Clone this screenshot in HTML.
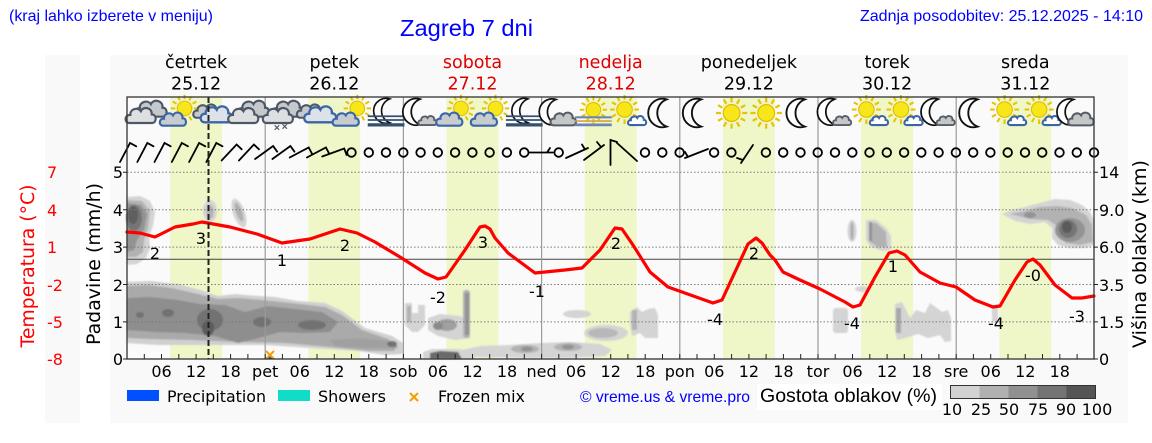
<!DOCTYPE html>
<html><head><meta charset="utf-8"><style>
html,body{margin:0;padding:0;background:#fff;}
svg{display:block;}
.dj{font-family:"DejaVu Sans","Liberation Sans",sans-serif;}
.ls{font-family:"Liberation Sans",Arial,sans-serif;}
</style></head><body>
<svg width="1152" height="443" viewBox="0 0 1152 443" xmlns="http://www.w3.org/2000/svg">
<defs>
<path id="cp" d="M-12,7 C-17.5,7 -17.5,-2 -11,-1.5 C-11.5,-8 -3,-10 0,-5.5 C2.5,-11 12,-9.5 11.5,-2 C17,-2 17,7 11.5,7 Z"/>
<g id="sun">
<g stroke="#e6c400" stroke-width="2">
<line x1="9.5" y1="0" x2="14" y2="0"/><line x1="8.2" y1="4.75" x2="12.1" y2="7"/><line x1="4.75" y1="8.2" x2="7" y2="12.1"/>
<line x1="0" y1="9.5" x2="0" y2="14"/><line x1="-4.75" y1="8.2" x2="-7" y2="12.1"/><line x1="-8.2" y1="4.75" x2="-12.1" y2="7"/>
<line x1="-9.5" y1="0" x2="-14" y2="0"/><line x1="-8.2" y1="-4.75" x2="-12.1" y2="-7"/><line x1="-4.75" y1="-8.2" x2="-7" y2="-12.1"/>
<line x1="0" y1="-9.5" x2="0" y2="-14"/><line x1="4.75" y1="-8.2" x2="7" y2="-12.1"/><line x1="8.2" y1="-4.75" x2="12.1" y2="-7"/>
</g>
<circle r="7.5" fill="#f6e61a" stroke="#e0b800" stroke-width="1"/>
</g>
<path id="moon" d="M4,-13 A13.6,13.6 0 1 0 4,13 A13.9,13.9 0 0 1 4,-13 Z" fill="#fff" stroke="#111" stroke-width="1.8"/>
<g id="oc">
<use href="#cp" transform="translate(5,-3) scale(0.9)" fill="#c6c9cc" stroke="#4d5866" stroke-width="2.2"/>
<use href="#cp" transform="translate(-4,3) scale(0.85)" fill="#dedfe0" stroke="#4d5866" stroke-width="2.3"/>
</g>
<g id="ocb">
<use href="#cp" transform="translate(-6,-1) scale(0.75)" fill="#c6c9cc" stroke="#4d5866" stroke-width="2.5"/>
<use href="#cp" transform="translate(3,2) scale(0.9)" fill="#dde2e8" stroke="#3866a8" stroke-width="2.3"/>
</g>
<g id="sc">
<use href="#sun" transform="translate(5,-4) scale(0.85)"/>
<use href="#cp" transform="translate(-5,6) scale(0.72)" fill="#c9cccf" stroke="#3866a8" stroke-width="2.6"/>
</g>
<g id="ss">
<use href="#sun" transform="translate(-3,-3) scale(0.9)"/>
<use href="#cp" transform="translate(8,7) scale(0.5)" fill="#ffffff" stroke="#3866a8" stroke-width="3.6"/>
</g>
<g id="mc">
<use href="#moon" transform="translate(-4,-1) scale(0.85)"/>
<use href="#cp" transform="translate(6,7) scale(0.5)" fill="#c4c6c8" stroke="#555d66" stroke-width="3.2"/>
</g>
<g id="mcb">
<use href="#moon" transform="translate(-6,-1) scale(0.85)"/>
<use href="#cp" transform="translate(4,6) scale(0.72)" fill="#c4c6c8" stroke="#555d66" stroke-width="2.6"/>
</g>
<g id="mf">
<use href="#moon" transform="translate(0,-2) scale(0.85)"/>
<g stroke="#35506f" stroke-width="1.6"><line x1="-17" y1="3" x2="17" y2="3"/><line x1="-17" y1="6.5" x2="17" y2="6.5"/></g>
<line x1="-17" y1="11" x2="17" y2="11" stroke="#35506f" stroke-width="3"/>
</g>
<g id="sf">
<use href="#sun" transform="translate(0,-3) scale(0.9)"/>
<line x1="-17" y1="4" x2="17" y2="4" stroke="#6a86b8" stroke-width="2"/>
<line x1="-17" y1="7.5" x2="17" y2="7.5" stroke="#d9a040" stroke-width="1.5"/>
<line x1="-17" y1="11" x2="17" y2="11" stroke="#6a86b8" stroke-width="2.5"/>
</g>
<g id="sn">
<use href="#oc"/>
<g stroke="#556" stroke-width="1"><line x1="-7" y1="11" x2="-3" y2="15"/><line x1="-3" y1="11" x2="-7" y2="15"/><line x1="0" y1="10" x2="4" y2="14"/><line x1="4" y1="10" x2="0" y2="14"/></g>
</g>
<filter id="bl" x="-5%" y="-5%" width="110%" height="110%"><feGaussianBlur stdDeviation="0.8"/></filter>
</defs>

<rect x="45" y="55" width="35" height="368" fill="#f9f9f9"/>
<rect x="110" y="55" width="1018" height="368" fill="#f9f9f9"/>

<text class="ls" x="9" y="21" font-size="16" fill="#0000ff" textLength="204" lengthAdjust="spacingAndGlyphs">(kraj lahko izberete v meniju)</text>
<text class="ls" x="400" y="36" font-size="23" fill="#0000ff" textLength="133" lengthAdjust="spacingAndGlyphs">Zagreb 7 dni</text>
<text class="ls" x="860" y="21" font-size="16" fill="#0000ff" textLength="283" lengthAdjust="spacingAndGlyphs">Zadnja posodobitev: 25.12.2025 - 14:10</text>

<g class="dj" font-size="17.5" text-anchor="middle">
<text x="196.1" y="68" fill="#000">četrtek</text><text x="196.1" y="89.5" fill="#000">25.12</text>
<text x="334.3" y="68" fill="#000">petek</text><text x="334.3" y="89.5" fill="#000">26.12</text>
<text x="472.5" y="68" fill="#e00000">sobota</text><text x="472.5" y="89.5" fill="#e00000">27.12</text>
<text x="610.7" y="68" fill="#e00000">nedelja</text><text x="610.7" y="89.5" fill="#e00000">28.12</text>
<text x="748.9" y="68" fill="#000">ponedeljek</text><text x="748.9" y="89.5" fill="#000">29.12</text>
<text x="887.1" y="68" fill="#000">torek</text><text x="887.1" y="89.5" fill="#000">30.12</text>
<text x="1025.3" y="68" fill="#000">sreda</text><text x="1025.3" y="89.5" fill="#000">31.12</text>
</g>

<rect x="127" y="97" width="967" height="262" fill="#fafafa"/>
<g fill="#eff6c8">
<rect x="170.2" y="97" width="51.8" height="262"/>
<rect x="308.4" y="97" width="51.8" height="262"/>
<rect x="446.6" y="97" width="51.8" height="262"/>
<rect x="584.8" y="97" width="51.8" height="262"/>
<rect x="723" y="97" width="51.8" height="262"/>
<rect x="861.2" y="97" width="51.8" height="262"/>
<rect x="999.4" y="97" width="51.8" height="262"/>
</g>

<g filter="url(#bl)">
<path fill="#d0d0d0" d="M127,282 L150,281 L178,284 L200,290 L218,296 L235,294 L258,296 L275,297 L298,301 L325,303 L342,311 L365,328 L392,336 L403,343 L403,354 L385,355 L358,351 L312,348 L265,345 L225,345 L158,345 L127,343 Z"/>
<path fill="#aaaaaa" d="M127,286 L148,285 L172,288 L198,294 L218,299 L238,298 L262,300 L300,304 L325,307 L342,315 L362,330 L388,339 L397,346 L394,351 L370,351 L330,347 L285,343 L240,342 L190,340 L150,339 L127,338 Z"/>
<path fill="#8e8e8e" d="M127,298 L150,297 L178,300 L200,304 L225,305 L245,312 L268,306 L295,309 L322,312 L338,322 L330,332 L305,333 L280,332 L255,339 L238,343 L215,336 L185,333 L155,332 L127,330 Z"/>
<path fill="#a0a0a0" d="M330,340 L360,338 L395,342 L398,348 L365,348 L335,346 Z"/>
<g fill="#727272">
<ellipse cx="210" cy="320" rx="13" ry="11"/><ellipse cx="262" cy="322" rx="9" ry="5"/><ellipse cx="312" cy="325" rx="14" ry="5"/>
<ellipse cx="168" cy="313" rx="6" ry="4"/><ellipse cx="392" cy="344" rx="5" ry="3"/><ellipse cx="140" cy="315" rx="4" ry="3"/>
</g>
<ellipse cx="208" cy="328" rx="6" ry="8" fill="#5c5c5c"/>
<path fill="#d4d4d4" d="M127,197 L140,196 L150,201 L155,212 L153,226 L149,236 L150,248 L146,258 L137,264 L127,265 Z"/>
<path fill="#b2b2b2" d="M127,200 L142,201 L150,211 L148,228 L144,240 L143,252 L136,257 L127,257 Z"/>
<path fill="#939393" d="M127,203 L141,205 L147,214 L144,230 L137,240 L134,250 L127,252 Z"/>
<ellipse cx="134" cy="218" rx="8" ry="13" fill="#747474"/>
<ellipse cx="133" cy="215" rx="5" ry="9" fill="#5e5e5e"/>
<ellipse cx="210" cy="211" rx="7" ry="11" fill="#d4d4d4"/>
<ellipse cx="210" cy="212" rx="3.5" ry="7" fill="#b2b2b2"/>
<ellipse cx="239" cy="213" rx="6" ry="15" fill="#d4d4d4" transform="rotate(-20 239 213)"/>
<ellipse cx="239" cy="212" rx="3" ry="10" fill="#b0b0b0" transform="rotate(-20 239 212)"/>
<path fill="#d4d4d4" d="M405,303 L412,303 L412,313 L418,313 L418,305 L425,305 L425,325 L418,332 L412,332 L405,325 Z"/>
<rect x="407" y="306" width="4" height="16" fill="#b2b2b2"/>
<path fill="#d4d4d4" d="M428,318 L440,314 L460,316 L470,322 L470,338 L455,340 L438,336 L428,330 Z"/>
<ellipse cx="447" cy="325" rx="10" ry="6" fill="#a0a0a0"/>
<ellipse cx="438" cy="326" rx="5" ry="4" fill="#8a8a8a"/>
<rect x="463" y="290" width="7" height="48" rx="3" fill="#b2b2b2"/>
<rect x="465" y="293" width="4" height="42" fill="#939393"/>
<path fill="#d4d4d4" d="M423,352 L432,349 L460,349 L475,352 L475,359 L423,359 Z"/>
<path fill="#6a6a6a" d="M430,353 L440,351 L458,352 L462,359 L430,359 Z"/>
<path fill="#d4d4d4" d="M462,350 L480,346 L510,345 L540,343 L570,342 L600,344 L612,350 L605,356 L570,358 L520,358 L480,357 L462,355 Z"/>
<ellipse cx="525" cy="349" rx="14" ry="4" fill="#b2b2b2"/><ellipse cx="568" cy="347" rx="14" ry="4" fill="#b2b2b2"/>
<ellipse cx="527" cy="349" rx="6" ry="2.5" fill="#939393"/><ellipse cx="568" cy="347" rx="6" ry="2.5" fill="#939393"/>
<ellipse cx="577" cy="314" rx="14" ry="4" fill="#d4d4d4"/>
<ellipse cx="606" cy="333" rx="22" ry="8" fill="#d4d4d4"/>
<ellipse cx="603" cy="333" rx="15" ry="5" fill="#b8b8b8"/>
<path fill="#d4d4d4" d="M630,312 L637,307 L642,312 L648,309 L655,308 L658,315 L658,338 L645,338 L640,333 L632,336 L630,325 Z"/>
<rect x="632" y="310" width="5" height="20" fill="#b2b2b2"/>
<ellipse cx="852" cy="231" rx="4.5" ry="11" fill="#d4d4d4"/>
<ellipse cx="852" cy="231" rx="1.5" ry="9" fill="#aaaaaa"/>
<path fill="#d4d4d4" d="M866,220 L876,220 L886,228 L891,236 L891,250 L882,251 L870,246 L866,240 Z"/>
<path fill="#b2b2b2" d="M869,223 L876,223 L886,232 L887,247 L878,247 L870,242 Z"/>
<rect x="869" y="222" width="3" height="19" fill="#939393"/>
<ellipse cx="862" cy="289" rx="7" ry="2.8" fill="#d4d4d4"/>
<rect x="833" y="308" width="15" height="25" rx="3" fill="#d4d4d4"/>
<path fill="#d4d4d4" d="M895,304 L902,302 L905,308 L910,318 L916,310 L925,313 L930,303 L937,308 L942,312 L948,310 L951,318 L951,341 L945,342 L940,335 L928,338 L918,334 L905,338 L897,340 L895,330 Z"/>
<rect x="896" y="308" width="5" height="25" fill="#a8a8a8"/>
<rect x="992" y="305" width="6" height="17" fill="#d4d4d4"/>
<path fill="#d4d4d4" d="M1002,214 L1012,210 L1025,207 L1040,203 L1055,199 L1070,200 L1082,205 L1090,212 L1094,220 L1094,245 L1085,248 L1070,248 L1058,245 L1052,238 L1052,228 L1045,222 L1030,224 L1015,221 Z"/>
<path fill="#b2b2b2" d="M1010,214 L1025,211 L1040,207 L1058,206 L1072,208 L1086,215 L1092,225 L1093,242 L1080,245 L1066,243 L1057,236 L1057,226 L1048,220 L1030,219 Z"/>
<ellipse cx="1070" cy="230" rx="15" ry="12" fill="#939393"/>
<ellipse cx="1030" cy="215" rx="6" ry="3" fill="#939393"/>
<ellipse cx="1068" cy="229" rx="9" ry="9" fill="#747474"/>
<ellipse cx="1067" cy="227" rx="5" ry="6" fill="#5a5a5a"/>
</g>

<g stroke="#7a7a7a" stroke-width="1" stroke-dasharray="1.5,2">
<line x1="127" y1="172.3" x2="1094" y2="172.3"/>
<line x1="127" y1="209.7" x2="1094" y2="209.7"/>
<line x1="127" y1="247.1" x2="1094" y2="247.1"/>
<line x1="127" y1="284.5" x2="1094" y2="284.5"/>
<line x1="127" y1="321.9" x2="1094" y2="321.9"/>
</g>
<line x1="127" y1="259.3" x2="1094" y2="259.3" stroke="#444" stroke-width="1"/>
<g stroke="#9a9a9a" stroke-width="1.2">
<line x1="265.2" y1="97" x2="265.2" y2="359"/>
<line x1="403.4" y1="97" x2="403.4" y2="359"/>
<line x1="541.6" y1="97" x2="541.6" y2="359"/>
<line x1="679.8" y1="97" x2="679.8" y2="359"/>
<line x1="818" y1="97" x2="818" y2="359"/>
<line x1="956.2" y1="97" x2="956.2" y2="359"/>
</g>

<polyline fill="none" stroke="#ff0000" stroke-width="3.2" stroke-linejoin="round" stroke-linecap="round" points="127,232 140,233 155,237 175,227 193,224 202,222 230,227 257,234 282,243 310,239 340,229 357,233 375,242 400,257 425,273 438,279 446,277 451,270 465,250 480,227 485,226 490,229 495,238 508,253 535,273 565,270 582,268 600,250 615,228 622,229 633,245 650,272 668,287 713,303 722,300 735,272 748,244 756,238 762,243 770,255 775,260 783,272 800,280 820,289 845,302 853,307 860,305 875,277 889,253 897,251 905,255 920,272 940,283 956,287 975,300 993,307 1000,306 1015,280 1027,262 1033,259 1040,265 1055,285 1072,298 1082,298 1094,296"/>

<g class="dj" font-size="16" text-anchor="middle" fill="#000">
<text x="155" y="259">2</text><text x="201" y="244">3</text><text x="282" y="266">1</text><text x="345" y="251">2</text>
<text x="438" y="303">-2</text><text x="483" y="248">3</text><text x="537" y="297">-1</text><text x="616" y="249">2</text>
<text x="715" y="325">-4</text><text x="754" y="259">2</text><text x="852" y="329">-4</text><text x="893" y="272">1</text>
<text x="996" y="329">-4</text><text x="1033" y="281">-0</text><text x="1077" y="322">-3</text>
</g>

<use href="#oc" transform="translate(145.3,113) scale(1.12)"/>
<use href="#sc" transform="translate(178.8,113) scale(1.15)"/>
<use href="#ocb" transform="translate(213.4,113) scale(1.12)"/>
<use href="#oc" transform="translate(247.9,113) scale(1.12)"/>
<use href="#sn" transform="translate(282.5,113) scale(1.12)"/>
<use href="#ocb" transform="translate(317.0,113) scale(1.12)"/>
<use href="#sc" transform="translate(351.6,113) scale(1.15)"/>
<use href="#mf" transform="translate(386.1,113) scale(1.08)"/>
<use href="#mc" transform="translate(420.7,113) scale(1.15)"/>
<use href="#sc" transform="translate(455.2,113) scale(1.15)"/>
<use href="#sc" transform="translate(489.8,113) scale(1.15)"/>
<use href="#mf" transform="translate(524.3,113) scale(1.08)"/>
<use href="#mcb" transform="translate(558.9,113) scale(1.12)"/>
<use href="#sf" transform="translate(593.4,113) scale(1.08)"/>
<use href="#ss" transform="translate(628.0,113) scale(1.15)"/>
<use href="#moon" transform="translate(662.5,113) scale(1.05)"/>
<use href="#moon" transform="translate(697.1,113) scale(1.05)"/>
<use href="#sun" transform="translate(731.6,113) scale(1.12)"/>
<use href="#sun" transform="translate(766.2,113) scale(1.12)"/>
<use href="#moon" transform="translate(800.7,113) scale(1.05)"/>
<use href="#mc" transform="translate(835.3,113) scale(1.15)"/>
<use href="#ss" transform="translate(869.8,113) scale(1.15)"/>
<use href="#ss" transform="translate(904.4,113) scale(1.15)"/>
<use href="#mc" transform="translate(938.9,113) scale(1.15)"/>
<use href="#moon" transform="translate(973.5,113) scale(1.05)"/>
<use href="#ss" transform="translate(1008.0,113) scale(1.15)"/>
<use href="#ss" transform="translate(1042.6,113) scale(1.15)"/>
<use href="#mcb" transform="translate(1076.6,113) scale(1.12)"/>

<g stroke="#000" stroke-width="1.8" fill="none" stroke-linecap="round">
<path d="M120,162 L130,143 L136.2,146.3"/>
<path d="M137.3,162 L147.3,143 L153.5,146.3"/>
<path d="M154.5,162 L164.5,143 L170.7,146.3"/>
<path d="M171.8,162 L181.8,143 L188,146.3"/>
<path d="M189.1,162 L199.1,143 L205.3,146.3"/>
<path d="M206.3,162 L216.3,143 L222.5,146.3"/>
<path d="M221.6,160.5 L236.6,144.5 L241.7,149.3"/>
<path d="M238.9,160.5 L253.9,144.5 L259,149.3"/>
<path d="M255.1,159 L273.1,146 L277.2,151.7"/>
<path d="M272.4,159 L290.4,146 L294.5,151.7"/>
<path d="M289.7,157.5 L308.7,147.5 L312,153.7"/>
<path d="M306.9,157.5 L325.9,147.5 L329.2,153.7"/>
<path d="M322.2,156.5 L344.2,148.5 L346.6,155"/>
<path d="M529,152.5 L553,152.5 M547,152.5 L550,148"/>
<path d="M566,158 L588,148 M585,149.5 L582,144.5"/>
<path d="M584,160 L604,145 M601,147 L597,142"/>
<path d="M610.5,165 L610.5,140 L617,142"/>
<path d="M617,143 L637,161"/>
<path d="M685,158 L708,149 M688,157 L685,152"/>
<path d="M741,163 L753,145 M743,160 L737,158"/>
</g>
<g stroke="#000" stroke-width="1.8" fill="none">
<circle cx="351.5" cy="152.5" r="4.3"/><circle cx="368.8" cy="152.5" r="4.3"/><circle cx="386.0" cy="152.5" r="4.3"/>
<circle cx="403.3" cy="152.5" r="4.3"/><circle cx="420.6" cy="152.5" r="4.3"/><circle cx="437.8" cy="152.5" r="4.3"/>
<circle cx="455.1" cy="152.5" r="4.3"/><circle cx="472.4" cy="152.5" r="4.3"/><circle cx="489.6" cy="152.5" r="4.3"/>
<circle cx="506.9" cy="152.5" r="4.3"/><circle cx="524.2" cy="152.5" r="4.3"/><circle cx="558.7" cy="152.5" r="4.3"/>
<circle cx="645.0" cy="152.5" r="4.3"/><circle cx="662.3" cy="152.5" r="4.3"/><circle cx="679.6" cy="152.5" r="4.3"/>
<circle cx="714.1" cy="152.5" r="4.3"/><circle cx="731.4" cy="152.5" r="4.3"/>
<circle cx="765.9" cy="152.5" r="4.3"/><circle cx="783.2" cy="152.5" r="4.3"/><circle cx="800.5" cy="152.5" r="4.3"/>
<circle cx="817.7" cy="152.5" r="4.3"/><circle cx="835.0" cy="152.5" r="4.3"/><circle cx="852.3" cy="152.5" r="4.3"/>
<circle cx="869.5" cy="152.5" r="4.3"/><circle cx="886.8" cy="152.5" r="4.3"/><circle cx="904.1" cy="152.5" r="4.3"/>
<circle cx="921.3" cy="152.5" r="4.3"/><circle cx="938.6" cy="152.5" r="4.3"/><circle cx="955.9" cy="152.5" r="4.3"/>
<circle cx="973.2" cy="152.5" r="4.3"/><circle cx="990.4" cy="152.5" r="4.3"/><circle cx="1007.7" cy="152.5" r="4.3"/>
<circle cx="1025.0" cy="152.5" r="4.3"/><circle cx="1042.2" cy="152.5" r="4.3"/><circle cx="1059.5" cy="152.5" r="4.3"/>
<circle cx="1076.8" cy="152.5" r="4.3"/><circle cx="1094.0" cy="152.5" r="4.3"/>
</g>

<rect x="268" y="356" width="4" height="3" fill="#0050ff"/>
<g stroke="#f5a000" stroke-width="2"><line x1="266" y1="351" x2="274" y2="359"/><line x1="274" y1="351" x2="266" y2="359"/></g>

<line x1="208.5" y1="97" x2="208.5" y2="359" stroke="#222" stroke-width="2" stroke-dasharray="6,3"/>

<rect x="127" y="97" width="967" height="262" fill="none" stroke="#333" stroke-width="1.3"/>

<g stroke="#222" stroke-width="1">
<path d="M144.3,359v-5M161.5,359v-5M178.8,359v-5M196.1,359v-5M213.3,359v-5M230.6,359v-5M247.9,359v-5M265.2,359v-5M282.4,359v-5M299.7,359v-5M317,359v-5M334.3,359v-5M351.5,359v-5M368.8,359v-5M386.1,359v-5M403.4,359v-5M420.6,359v-5M437.9,359v-5M455.2,359v-5M472.5,359v-5M489.7,359v-5M507,359v-5M524.3,359v-5M541.6,359v-5M558.8,359v-5M576.1,359v-5M593.4,359v-5M610.7,359v-5M627.9,359v-5M645.2,359v-5M662.5,359v-5M679.8,359v-5M697,359v-5M714.3,359v-5M731.6,359v-5M748.9,359v-5M766.1,359v-5M783.4,359v-5M800.7,359v-5M818,359v-5M835.2,359v-5M852.5,359v-5M869.8,359v-5M887.1,359v-5M904.3,359v-5M921.6,359v-5M938.9,359v-5M956.2,359v-5M973.4,359v-5M990.7,359v-5M1008,359v-5M1025.3,359v-5M1042.5,359v-5M1059.8,359v-5M1077.1,359v-5"/>
<path d="M123,172.3h4M123,209.7h4M123,247.1h4M123,284.5h4M123,321.9h4M123,359h4M1094,172.3h4M1094,209.7h4M1094,247.1h4M1094,284.5h4M1094,321.9h4M1094,359h4"/>
</g>

<g class="dj" font-size="16" text-anchor="middle" fill="#000">
<text x="161.5" y="377">06</text><text x="196.1" y="377">12</text><text x="230.6" y="377">18</text>
<text x="265.2" y="377">pet</text><text x="299.7" y="377">06</text><text x="334.3" y="377">12</text><text x="368.8" y="377">18</text>
<text x="403.4" y="377">sob</text><text x="437.9" y="377">06</text><text x="472.5" y="377">12</text><text x="507" y="377">18</text>
<text x="541.6" y="377">ned</text><text x="576.1" y="377">06</text><text x="610.7" y="377">12</text><text x="645.2" y="377">18</text>
<text x="679.8" y="377">pon</text><text x="714.3" y="377">06</text><text x="748.9" y="377">12</text><text x="783.4" y="377">18</text>
<text x="818" y="377">tor</text><text x="852.5" y="377">06</text><text x="887.1" y="377">12</text><text x="921.6" y="377">18</text>
<text x="956.2" y="377">sre</text><text x="990.7" y="377">06</text><text x="1025.3" y="377">12</text><text x="1059.8" y="377">18</text>
</g>

<g class="dj" font-size="16" fill="#ff0000">
<text x="47" y="178">7</text><text x="47" y="216">4</text><text x="47" y="253">1</text>
<text x="47" y="291">-2</text><text x="47" y="328">-5</text><text x="47" y="365">-8</text>
</g>
<text class="dj" font-size="18.5" fill="#ff0000" text-anchor="middle" transform="translate(34,266) rotate(-90)" textLength="163" lengthAdjust="spacingAndGlyphs">Temperatura (°C)</text>
<g class="dj" font-size="16" fill="#000" text-anchor="end">
<text x="123" y="178">5</text><text x="123" y="216">4</text><text x="123" y="253">3</text>
<text x="123" y="291">2</text><text x="123" y="328">1</text><text x="123" y="365">0</text>
</g>
<text class="dj" font-size="19" fill="#000" text-anchor="middle" transform="translate(100,264) rotate(-90)" textLength="162" lengthAdjust="spacingAndGlyphs">Padavine (mm/h)</text>

<g class="dj" font-size="16" fill="#000">
<text x="1099" y="178">14</text><text x="1099" y="216">9.0</text><text x="1099" y="253">6.0</text>
<text x="1099" y="291">3.5</text><text x="1099" y="328">1.5</text><text x="1099" y="365">0</text>
</g>
<text class="dj" font-size="19" fill="#000" text-anchor="middle" transform="translate(1146,254) rotate(-90)" textLength="188" lengthAdjust="spacingAndGlyphs">Višina oblakov (km)</text>

<rect x="127" y="390" width="32" height="11" fill="#0050ff"/>
<text class="dj" x="167" y="402" font-size="16" fill="#000" textLength="99" lengthAdjust="spacingAndGlyphs">Precipitation</text>
<rect x="278" y="390" width="32" height="11" fill="#10dcc8"/>
<text class="dj" x="318" y="402" font-size="16" fill="#000">Showers</text>
<g stroke="#f5a000" stroke-width="2"><line x1="410" y1="393" x2="418" y2="401"/><line x1="418" y1="393" x2="410" y2="401"/></g>
<text class="dj" x="438" y="402" font-size="16" fill="#000">Frozen mix</text>
<text class="ls" x="580" y="402" font-size="16" fill="#0000ff" textLength="170" lengthAdjust="spacingAndGlyphs">© vreme.us &amp; vreme.pro</text>
<rect x="757" y="384" width="185" height="26" fill="#ffffff"/>
<text class="ls" x="760" y="402" font-size="19" fill="#000" textLength="177" lengthAdjust="spacingAndGlyphs">Gostota oblakov (%)</text>
<rect x="950.5" y="385.5" width="29" height="13" fill="#d2d2d2"/>
<rect x="979.5" y="385.5" width="29" height="13" fill="#b0b0b0"/>
<rect x="1008.5" y="385.5" width="29" height="13" fill="#909090"/>
<rect x="1037.5" y="385.5" width="29" height="13" fill="#737373"/>
<rect x="1066.5" y="385.5" width="29" height="13" fill="#555555"/>
<rect x="950.5" y="385.5" width="145" height="13" fill="none" stroke="#333" stroke-width="1"/>
<g class="dj" font-size="16" fill="#000" text-anchor="middle">
<text x="952" y="415">10</text><text x="981" y="415">25</text><text x="1009" y="415">50</text>
<text x="1038" y="415">75</text><text x="1066" y="415">90</text><text x="1097" y="415">100</text>
</g>
</svg>
</body></html>
